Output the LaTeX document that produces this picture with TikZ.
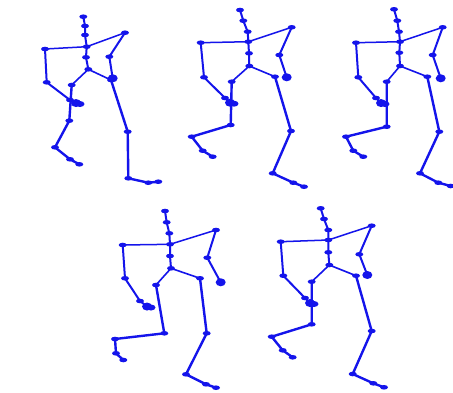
\documentclass[tikz,border=0pt]{standalone}
\usetikzlibrary{shapes.geometric}
\definecolor{skelblue}{RGB}{20,20,235}
\tikzset{
  joint/.style={ellipse,fill=skelblue,inner sep=0pt,minimum width=8pt,minimum height=4.6pt},
  handblob/.style={ellipse,fill=skelblue,inner sep=0pt,minimum width=10pt,minimum height=8pt},
  bone/.style={draw=skelblue,line width=2pt,line join=round,line cap=round},
}
% #1: prefix, #2: list of joint/x/y
\newcommand\skeleton[2]{%
  % spine
  \foreach \n/\x/\y in {#2} {\coordinate (#1-\n) at (\x,\y);}
  \draw[bone] (#1-hd) -- (#1-nk) -- (#1-sh2) -- (#1-sc) -- (#1-sp) -- (#1-hc);
  % arms
  \draw[bone,line width=1.5pt] (#1-rs) -- (#1-sc) -- (#1-ls);
  \draw[bone] (#1-ls) -- (#1-le) -- (#1-lw) -- (#1-lh);
  \draw[bone] (#1-rs) -- (#1-re) -- (#1-rw);
  % legs
  \draw[bone,line width=1.6pt] (#1-hc) -- (#1-lhip);
  \draw[bone,line width=1.6pt] (#1-hc) -- (#1-rhip);
  \draw[bone,line width=2.4pt] (#1-lhip) -- (#1-lk) -- (#1-la) -- (#1-lf1) -- (#1-lf2);
  \draw[bone,line width=2.4pt] (#1-rhip) -- (#1-rk) -- (#1-ra) -- (#1-rf1) -- (#1-rf2);
  % joints on top
  \foreach \n/\x/\y in {#2} {\node[joint] (#1-j\n) at (\x,\y) {};}
  \node[handblob] (#1-lhb) at (#1-lh) {};
  \node[joint,minimum width=9pt,minimum height=6pt] (#1-lhc) at ($(#1-lh)+(4,1)$) {};
  \node[handblob] (#1-rhb) at (#1-rw) {};
}
\usetikzlibrary{calc}
\begin{document}
\begin{tikzpicture}[x=1pt,y=-1pt]
\useasboundingbox[fill=white] (0,0) rectangle (453,392);

\skeleton{a}{hd/83.3/16.7, nk/85/26, sh2/85/35, sc/86.7/46.7, sp/86/57.3, hc/88.3/69.3,
  ls/45/49, le/46.7/82.3, lw/70/100, lh/76/103,
  rs/125/32.7, re/109.3/56.7, rw/112.7/78.3,
  lhip/71.7/85, lk/69.3/120.7, la/55/147.3, lf1/70/159.3, lf2/79.3/164.3,
  rhip/111/80, rk/127.7/131.7, ra/128.3/178.3, rf1/148.3/182.7, rf2/158.3/181.7}

\skeleton{b}{hd/240/10, nk/243.3/20.7, sh2/247.7/31.7, sc/248.3/41.7, sp/249/53.3, hc/249.3/66,
  ls/200.7/42.7, le/204/77.3, lw/225/98, lh/230/102.7,
  rs/291.7/27.3, re/279.3/55, rw/286.7/77.3,
  lhip/231.7/81.7, lk/230.7/125, la/191.7/136.7, lf1/202.7/150.7, lf2/212.7/156.7,
  rhip/275/76.7, rk/291/131, ra/272.7/173.3, rf1/293.3/182.7, rf2/304/186.7}

\skeleton{c}{hd/394/9.3, nk/397.3/20.7, sh2/399/31.7, sc/400/41.7, sp/399.3/52.7, hc/400/66,
  ls/356/42.7, le/358.3/77.3, lw/376/98, lh/381/103,
  rs/442.7/27.3, re/432.7/55, rw/440.7/78.3,
  lhip/386.7/81.7, lk/386.7/126.7, la/346/136.7, lf1/353.3/150.7, lf2/363.3/156.7,
  rhip/427.3/76.7, rk/439.3/131.7, ra/420/173.3, rf1/438.3/182.7, rf2/450.7/186}

\skeleton{d}{hd/165/211, nk/166.7/222.3, sh2/169.3/233.3, sc/170/244.3, sp/170/256, hc/171/268.3,
  ls/122.7/245, le/125/278.3, lw/140/301, lh/147/306.5,
  rs/216/230, re/207.3/257.7, rw/220.7/282.3,
  lhip/156/285, lk/164.3/333.3, la/115/339, lf1/116/353.3, lf2/123.3/360,
  rhip/200/278.3, rk/206.7/333.3, ra/186/374.3, rf1/206/384.3, rf2/216/387.7}

\skeleton{e}{hd/320.7/208.3, nk/324/219, sh2/328.3/230, sc/328.3/240, sp/328.3/252.3, hc/329.3/265,
  ls/280.7/241.7, le/283.3/275.7, lw/305/298, lh/310/303,
  rs/371.7/225.7, re/359.3/254.3, rw/367.3/275,
  lhip/311.7/281.7, lk/311.7/324.3, la/271.7/336.7, lf1/282.7/350.3, lf2/292.7/357.3,
  rhip/356/275.7, rk/371.7/331, ra/352.7/374, rf1/373.3/383.3, rf2/384/387.3}
\end{tikzpicture}
\end{document}
